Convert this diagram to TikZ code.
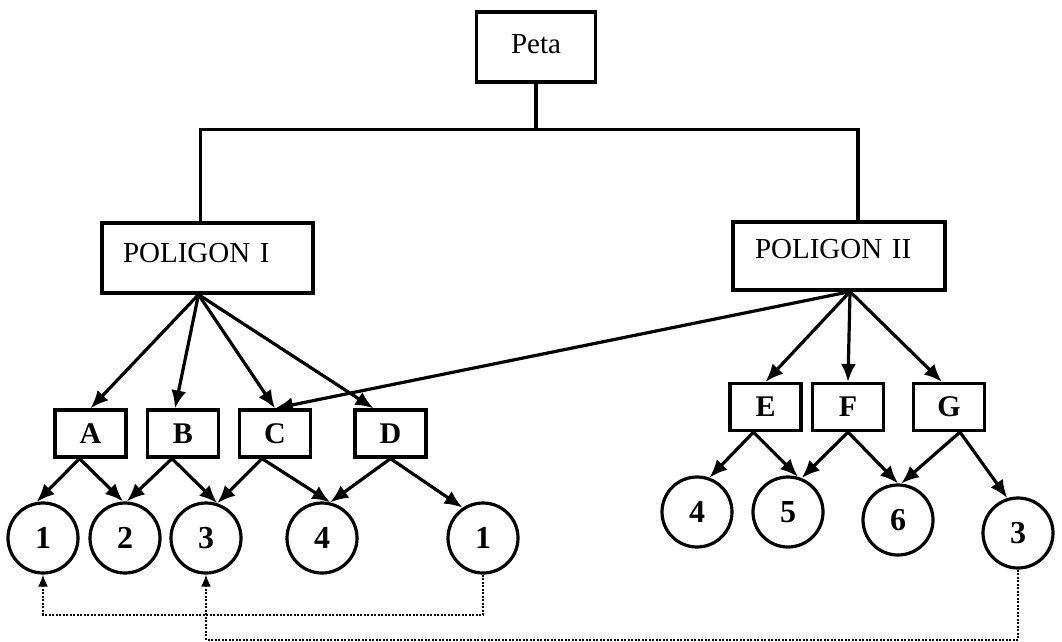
\documentclass[tikz,border=0pt]{standalone}
\usepackage{fontspec}
\setmainfont{Liberation Serif}
\usepackage{tikz}
\usetikzlibrary{arrows.meta}

\begin{document}
\begin{tikzpicture}[x=1pt,y=-1pt,line width=3.2pt,
  box/.style={draw,inner sep=0pt,font=\fontsize{29}{34}\selectfont},
  sbox/.style={draw,inner sep=0pt,minimum width=71pt,minimum height=47pt,font=\fontsize{30}{34}\selectfont\bfseries},
  num/.style={draw,circle,inner sep=0pt,minimum size=70pt,font=\fontsize{32}{36}\selectfont\bfseries},
  arr/.style={-{Latex[length=18pt,width=15pt]}},
  link/.style={-{Latex[length=12pt,width=10pt]},line width=2pt,dash pattern=on 2pt off 1.5pt}]
\useasboundingbox (0,0) rectangle (1062,642);
\node[box,minimum width=119pt,text height=41pt,text depth=29pt] (peta) at (536,47) {Peta};
\node[box,inner xsep=21pt,text width=169pt,align=left,text height=39pt,text depth=31pt] (pol1) at (207.5,258) {POLIGON I};
\node[box,inner xsep=22pt,text width=168pt,align=left,text height=36pt,text depth=32pt] (pol2) at (839,256) {POLIGON II};
\node[sbox] (a) at (90.5,433.5) {A};
\node[sbox] (b) at (183,433.5) {B};
\node[sbox] (c) at (275,433.5) {C};
\node[sbox] (d) at (390.5,433.5) {D};
\node[sbox] (e) at (765.5,407) {E};
\node[sbox] (f) at (848,407) {F};
\node[sbox] (g) at (949,407) {G};
\node[num] (c1a) at (43,538) {1};
\node[num] (c2) at (125,538) {2};
\node[num] (c3a) at (206,538) {3};
\node[num] (c4a) at (322,538) {4};
\node[num] (c1b) at (483,538) {1};
\node[num] (c4b) at (697,512) {4};
\node[num] (c5) at (788,512) {5};
\node[num] (c6) at (898,520) {6};
\node[num] (c3b) at (1018,533) {3};
\draw (peta.south) -- ++(0,46) coordinate (split);
\draw ([xshift=-7pt]pol1.north) |- (split) -| ([xshift=19pt]pol2.north);
\coordinate (s1) at ([xshift=-9pt]pol1.south);
\coordinate (s2) at ([xshift=11pt]pol2.south);
\draw[arr] (s1) -- (a.north);
\draw[arr] (s1) -- ([xshift=-8pt]b.north);
\draw[arr] (s1) -- (c.north);
\draw[arr] (s1) -- ([xshift=-17pt]d.north);
\draw[arr] (s2) -- (c.north);
\draw[arr] (s2) -- (e.north);
\draw[arr] (s2) -- (f.north);
\draw[arr] (s2) -- ([xshift=-7pt]g.north);
\draw[arr] ([xshift=-11pt]a.south) -- (c1a.100);
\draw[arr] ([xshift=-11pt]a.south) -- (c2.93);
\draw[arr] ([xshift=-11pt]b.south) -- (c2.87);
\draw[arr] ([xshift=-11pt]b.south) -- (c3a.72);
\draw[arr] ([xshift=-13pt]c.south) -- (c3a.72);
\draw[arr] ([xshift=-13pt]c.south) -- (c4a.77);
\draw[arr] (d.south) -- (c4a.77);
\draw[arr] (d.south) -- (c1b.124);
\draw[arr] ([xshift=-12pt]e.south) -- (c4b.70);
\draw[arr] ([xshift=-12pt]e.south) -- (c5.74);
\draw[arr] (f.south) -- (c5.68);
\draw[arr] (f.south) -- (c6.90);
\draw[arr] ([xshift=11pt]g.south) -- (c6.85);
\draw[arr] ([xshift=11pt]g.south) -- (c3b.107);
\draw[link] (c1b.south) -- ++(0,40) -| (c1a.south);
\draw[link] (c3b.south) -- ++(0,70) -| (c3a.south);
\end{tikzpicture}
\end{document}
